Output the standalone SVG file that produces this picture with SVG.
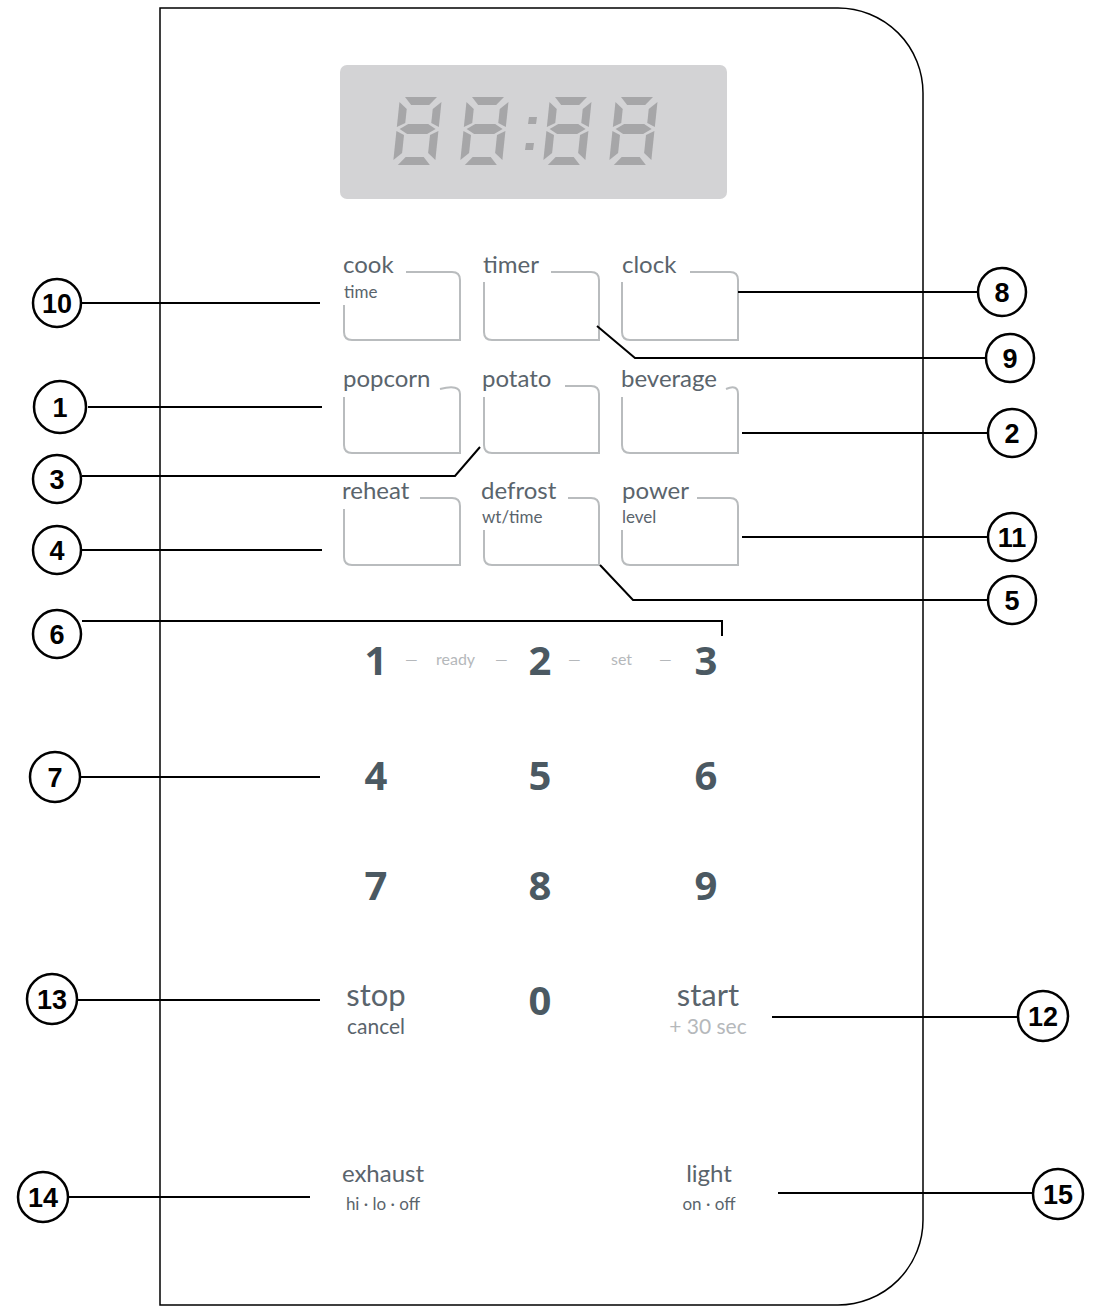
<svg xmlns="http://www.w3.org/2000/svg" width="1101" height="1312" viewBox="0 0 1101 1312">
<style>
.lbl{font-family:Lato,"Open Sans",sans-serif;fill:#5a646c;font-size:24px}
.sub{font-family:Lato,"Open Sans",sans-serif;fill:#5a646c;font-size:17px}
.lite{font-family:Lato,"Open Sans",sans-serif;fill:#b5b8bb;font-size:16px}
.key{font-family:"Open Sans",Lato,sans-serif;font-weight:bold;fill:#4b5962;font-size:40px;text-anchor:middle}
.big{font-size:31px}
.mid{font-size:21px}
.box{fill:none;stroke:#b9bcbe;stroke-width:2}
.seg{fill:#a6a6a8}
.c{fill:#fff;stroke:#000;stroke-width:2.5}
.n{font-family:"Liberation Sans",Arial,sans-serif;font-weight:bold;font-size:27px;text-anchor:middle;fill:#000}
.ln{fill:none;stroke:#000;stroke-width:2}
</style>
<defs>
<g id="d8">
<polygon class="seg" points="5,0 37,0 30,8 12,8"/>
<polygon class="seg" points="3,32 11,27 31,27 39,32 31,37 11,37"/>
<polygon class="seg" points="5,68 12,60 30,60 37,68"/>
<polygon class="seg" points="0,5 8,12 8,26 0,30"/>
<polygon class="seg" points="0,34 8,38 8,56 0,63"/>
<polygon class="seg" points="42,5 34,12 34,26 42,30"/>
<polygon class="seg" points="42,34 34,38 34,56 42,63"/>
</g>
</defs>
<path d="M160,8 H838 A85,85 0 0 1 923,93 V1220 A85,85 0 0 1 838,1305 H160 Z" fill="#fff" stroke="#000" stroke-width="1.5"/>
<g id="display">
<rect x="340" y="65" width="387" height="134" rx="7" fill="#d3d3d5"/>
<g transform="translate(400,97) skewX(-6)"><use href="#d8"/></g>
<g transform="translate(467,97) skewX(-6)"><use href="#d8"/></g>
<polygon class="seg" points="529,117 537,117 536,124 528,124"/>
<polygon class="seg" points="526,143 534,143 533,150 525,150"/>
<g transform="translate(550,97) skewX(-6)"><use href="#d8"/></g>
<g transform="translate(616,97) skewX(-6)"><use href="#d8"/></g>
</g>
<g id="b-cook"><text class="lbl" x="343" y="273">cook</text><text class="sub" x="344" y="298">time</text><path class="box" d="M406,272 H452 Q460,272 460,280 V340 H352 Q344,340 344,332 V305"/></g>
<g id="b-timer"><text class="lbl" x="483" y="273">timer</text><path class="box" d="M551,272 H591 Q599,272 599,280 V340 H492 Q484,340 484,332 V282"/></g>
<g id="b-clock"><text class="lbl" x="622" y="273">clock</text><path class="box" d="M690,272 H730 Q738,272 738,280 V340 H630 Q622,340 622,332 V282"/></g>
<g id="b-popcorn"><text class="lbl" x="343" y="387">popcorn</text><path class="box" d="M440,389 Q460,384 460,394 V453 H352 Q344,453 344,445 V397"/></g>
<g id="b-potato"><text class="lbl" x="482" y="387">potato</text><path class="box" d="M565,386 H591 Q599,386 599,394 V453 H492 Q484,453 484,445 V397"/></g>
<g id="b-beverage"><text class="lbl" x="621" y="387">beverage</text><path class="box" d="M726,389 Q738,384 738,394 V453 H630 Q622,453 622,445 V397"/></g>
<g id="b-reheat"><text class="lbl" x="342" y="499">reheat</text><path class="box" d="M420,498 H452 Q460,498 460,506 V565 H352 Q344,565 344,557 V509"/></g>
<g id="b-defrost"><text class="lbl" x="481" y="499">defrost</text><text class="sub" x="482" y="523">wt/time</text><path class="box" d="M568,498 H591 Q599,498 599,506 V565 H492 Q484,565 484,557 V530"/></g>
<g id="b-power"><text class="lbl" x="622" y="499">power</text><text class="sub" x="622" y="523">level</text><path class="box" d="M697,498 H730 Q738,498 738,506 V565 H630 Q622,565 622,557 V530"/></g>
<g id="keypad">
<text class="key" x="376" y="675">1</text><text class="key" x="540" y="675">2</text><text class="key" x="706" y="675">3</text>
<text class="lite" x="405" y="665">—</text><text class="lite" x="436" y="665">ready</text><text class="lite" x="495" y="665">—</text>
<text class="lite" x="568" y="665">—</text><text class="lite" x="611" y="665">set</text><text class="lite" x="659" y="665">—</text>
<text class="key" x="376" y="790">4</text><text class="key" x="540" y="790">5</text><text class="key" x="706" y="790">6</text>
<text class="key" x="376" y="900">7</text><text class="key" x="540" y="900">8</text><text class="key" x="706" y="900">9</text>
<text class="key" x="540" y="1015">0</text>
</g>
<g id="b-stop"><text class="lbl big" x="376" y="1006" text-anchor="middle">stop</text><text class="lbl mid" x="376" y="1034" text-anchor="middle">cancel</text></g>
<g id="b-start"><text class="lbl big" x="708" y="1006" text-anchor="middle">start</text><text class="lite mid" x="708" y="1034" text-anchor="middle">+ 30 sec</text></g>
<g id="b-exhaust"><text class="lbl" x="383" y="1182" text-anchor="middle">exhaust</text><text class="sub" x="383" y="1210" text-anchor="middle">hi · lo · off</text></g>
<g id="b-light"><text class="lbl" x="709" y="1182" text-anchor="middle">light</text><text class="sub" x="709" y="1210" text-anchor="middle">on · off</text></g>
<g id="connectors">
<path class="ln" d="M82,303 H320"/>
<path class="ln" d="M738,292 H977"/>
<path class="ln" d="M597,326 L635,358 H985"/>
<path class="ln" d="M88,407 H322"/>
<path class="ln" d="M742,433 H987"/>
<path class="ln" d="M82,476 H455 L480,447"/>
<path class="ln" d="M82,550 H322"/>
<path class="ln" d="M742,537 H987"/>
<path class="ln" d="M600,565 L633,600 H987"/>
<path class="ln" d="M82,621 H722 V636"/>
<path class="ln" d="M80,777 H320"/>
<path class="ln" d="M78,1000 H320"/>
<path class="ln" d="M772,1017 H1018"/>
<path class="ln" d="M68,1197 H310"/>
<path class="ln" d="M778,1193 H1034"/>
</g>
<g id="c10"><circle class="c" cx="57" cy="303" r="24"/><text class="n" x="57" y="313">10</text></g>
<g id="c8"><circle class="c" cx="1002" cy="292" r="24"/><text class="n" x="1002" y="302">8</text></g>
<g id="c9"><circle class="c" cx="1010" cy="358" r="24"/><text class="n" x="1010" y="368">9</text></g>
<g id="c1"><circle class="c" cx="60" cy="407" r="26"/><text class="n" x="60" y="417">1</text></g>
<g id="c2"><circle class="c" cx="1012" cy="433" r="24"/><text class="n" x="1012" y="443">2</text></g>
<g id="c3"><circle class="c" cx="57" cy="479" r="24"/><text class="n" x="57" y="489">3</text></g>
<g id="c4"><circle class="c" cx="57" cy="550" r="24"/><text class="n" x="57" y="560">4</text></g>
<g id="c11"><circle class="c" cx="1012" cy="537" r="24"/><text class="n" x="1012" y="547">11</text></g>
<g id="c5"><circle class="c" cx="1012" cy="600" r="24"/><text class="n" x="1012" y="610">5</text></g>
<g id="c6"><circle class="c" cx="57" cy="634" r="24"/><text class="n" x="57" y="644">6</text></g>
<g id="c7"><circle class="c" cx="55" cy="777" r="25"/><text class="n" x="55" y="787">7</text></g>
<g id="c13"><circle class="c" cx="52" cy="999" r="25"/><text class="n" x="52" y="1009">13</text></g>
<g id="c12"><circle class="c" cx="1043" cy="1016" r="25"/><text class="n" x="1043" y="1026">12</text></g>
<g id="c14"><circle class="c" cx="43" cy="1197" r="25"/><text class="n" x="43" y="1207">14</text></g>
<g id="c15"><circle class="c" cx="1058" cy="1194" r="25"/><text class="n" x="1058" y="1204">15</text></g>
</svg>
